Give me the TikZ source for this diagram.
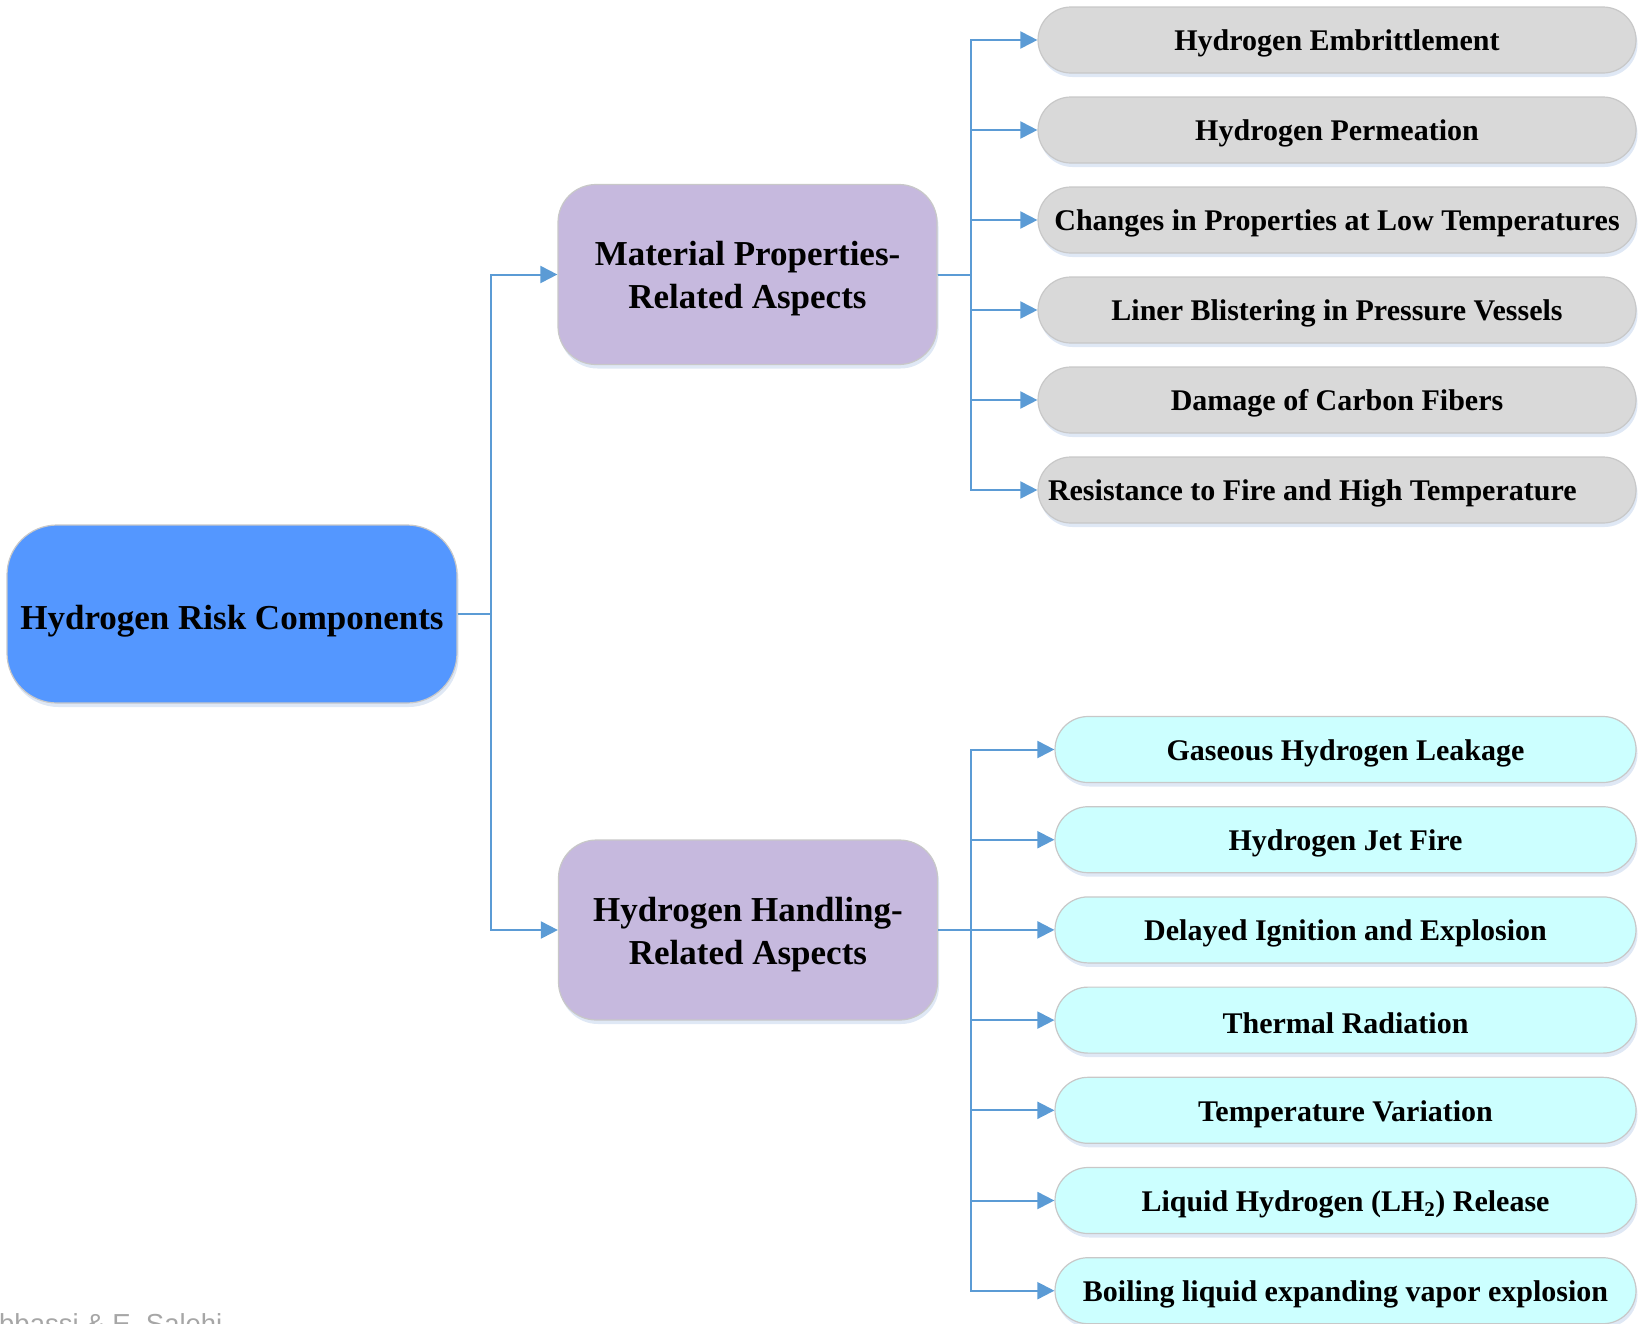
\documentclass[tikz,border=0pt]{standalone}
\usepackage{fontspec}
\setmainfont{Liberation Serif}
\newfontfamily\wmfont{Liberation Sans}
\usetikzlibrary{arrows.meta,shadows}
\definecolor{linec}{HTML}{5B9BD5}
\definecolor{rootc}{RGB}{84,151,255}
\definecolor{midc}{RGB}{198,185,222}
\definecolor{grayc}{HTML}{D9D9D9}
\definecolor{cyanc}{RGB}{204,255,255}
\definecolor{edgec}{HTML}{C8C8C8}
\definecolor{shadc}{RGB}{223,232,245}
\definecolor{wmc}{HTML}{A6A6A6}
\newcommand\dn[2]{\raisebox{-#1}[\height][\depth]{#2}}
\newcommand\lf[1]{\dn{3.6pt}{#1}}
\newcommand\twol[2]{\dn{4.2pt}{\begin{tabular}{@{}c@{}}#1\\#2\end{tabular}}}
\begin{document}
\begin{tikzpicture}[x=1pt,y=-1pt,
 box/.style={draw=edgec, line width=1.2pt, align=center, inner sep=0pt,
   drop shadow={shadow xshift=1.5pt, shadow yshift=-4pt, fill=shadc, opacity=1}},
 rootbox/.style={box, fill=rootc, minimum width=450pt, minimum height=178pt, rounded corners=50pt,
   font=\fontsize{35}{43}\selectfont\bfseries},
 midbox/.style={box, fill=midc, minimum width=379pt, minimum height=180pt, rounded corners=38pt,
   font=\fontsize{35}{43}\selectfont\bfseries},
 leaf/.style={box, minimum height=66pt, rounded corners=33pt, font=\fontsize{30}{36}\selectfont\bfseries},
 graybox/.style={leaf, fill=grayc, minimum width=598pt},
 cyanbox/.style={leaf, fill=cyanc, minimum width=581pt},
 conn/.style={draw=linec, line width=2pt, -{Triangle[length=17pt,width=17pt]}}
]
\useasboundingbox (0,0) rectangle (1641,1323);

\node[rootbox] (root) at (232,614) {\dn{7pt}{Hydrogen Risk Components}};
\node[midbox] (mat) at (747.5,274.5) {\twol{Material Properties-}{Related Aspects}};
\node[midbox] (hand) at (748,930) {\twol{Hydrogen Handling-}{Related Aspects}};

\node[graybox] (g1) at (1337,40) {\lf{Hydrogen Embrittlement}};
\node[graybox] (g2) at (1337,130) {\lf{Hydrogen Permeation}};
\node[graybox] (g3) at (1337,220) {\lf{Changes in Properties at Low Temperatures}};
\node[graybox] (g4) at (1337,310) {\lf{Liner Blistering in Pressure Vessels}};
\node[graybox] (g5) at (1337,400) {\lf{Damage of Carbon Fibers}};
\node[graybox] (g6) at (1337,490) {\lf{\makebox[578pt][l]{Resistance to Fire and High Temperature}}};

\node[cyanbox] (c1) at (1345.5,749.5) {\lf{Gaseous Hydrogen Leakage}};
\node[cyanbox] (c2) at (1345.5,839.7) {\lf{Hydrogen Jet Fire}};
\node[cyanbox] (c3) at (1345.5,929.9) {\lf{Delayed Ignition and Explosion}};
\node[cyanbox] (c4) at (1345.5,1020.1) {\lf{Thermal Radiation}};
\node[cyanbox] (c5) at (1345.5,1110.3) {\lf{Temperature Variation}};
\node[cyanbox] (c6) at (1345.5,1200.5) {\lf{Liquid Hydrogen (LH\textsubscript{2}) Release}};
\node[cyanbox] (c7) at (1345.5,1290.7) {\lf{Boiling liquid expanding vapor explosion}};

\coordinate (j0) at (491,614);
\coordinate (j1) at (971,274.5);
\coordinate (j2) at (971,930);

\draw[conn] (root.east) -- (j0) |- (mat.west);
\draw[conn] (root.east) -- (j0) |- (hand.west);
\foreach \i in {1,...,6} {\draw[conn] (mat.east) -- (j1) |- (g\i.west);}
\foreach \i in {1,...,7} {\draw[conn] (hand.east) -- (j2) |- (c\i.west);}

\node[anchor=base west, inner sep=0pt, text=wmc, font=\wmfont\fontsize{27.5}{30}\selectfont] (wm) at (-1,1333) {bbassi \& E. Salehi};
\end{tikzpicture}
\end{document}
